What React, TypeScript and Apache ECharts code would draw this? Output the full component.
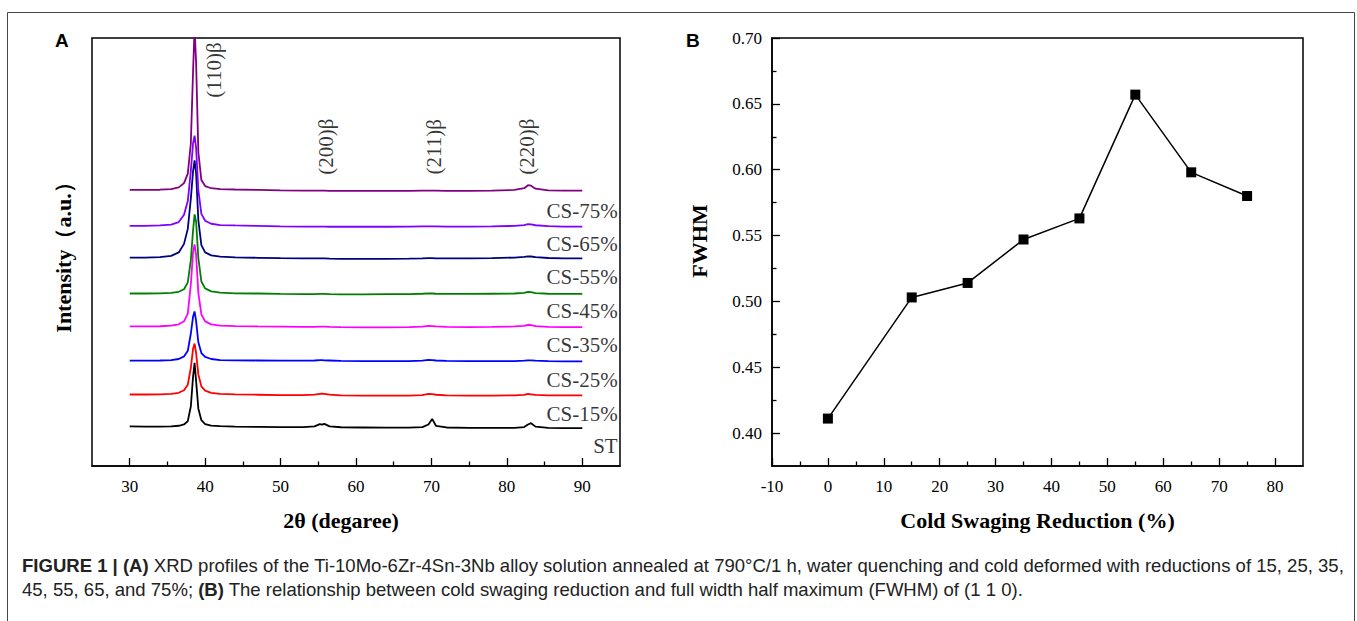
import React, { useEffect, useRef } from "react";
import * as echarts from "echarts";

// ---------- Panel A: XRD profiles ----------
const twoTheta = [30, 32, 34, 35.5, 36.5, 37.2, 37.7, 38.1, 38.4, 38.6, 38.8, 39.1, 39.5, 40, 40.8, 42, 44, 47, 50, 53, 54.5, 55.2, 55.5, 55.8, 56.5, 58, 61, 64, 67, 68.8, 69.6, 70.1, 70.6, 72, 75, 78, 81, 82.3, 82.8, 83.2, 83.8, 85.5, 87.5, 90];

const stTrace = [0.35, 0.3, 0.3, 0.35, 0.5, 0.8, 1.6, 5, 12, 15.2, 11, 4.5, 1.8, 0.9, 0.55, 0.4, 0.3, 0.25, 0.2, 0.2, 0.35, 0.9, 0.75, 0.95, 0.35, 0.15, 0.1, 0.05, 0.05, 0.2, 0.8, 2.1, 0.5, 0.1, 0, 0, 0, 0.2, 0.8, 1.1, 0.3, 0, -0.05, -0.05];
const cs15Trace = [0.3, 0.3, 0.35, 0.45, 0.7, 1.3, 2.6, 6.5, 11, 12.2, 10, 5, 2.2, 1.2, 0.7, 0.45, 0.35, 0.25, 0.15, 0.15, 0.3, 0.45, 0.5, 0.45, 0.3, 0.1, 0.05, 0.05, 0.05, 0.15, 0.45, 0.4, 0.25, 0.1, 0.05, 0.05, 0.1, 0.2, 0.45, 0.35, 0.2, 0.1, 0.1, 0.1];
const cs25Trace = [0.2, 0.2, 0.25, 0.35, 0.6, 1.2, 2.5, 6.5, 10.5, 11.7, 9.5, 4.5, 2, 1.1, 0.6, 0.35, 0.3, 0.25, 0.2, 0.2, 0.25, 0.35, 0.35, 0.3, 0.25, 0.15, 0.1, 0.1, 0.1, 0.2, 0.4, 0.35, 0.25, 0.15, 0.1, 0.1, 0.1, 0.2, 0.3, 0.3, 0.2, 0.1, 0.05, 0.05];
const cs35Trace = [0.2, 0.2, 0.25, 0.4, 0.7, 1.4, 3.2, 10, 17.5, 19.4, 17, 8, 3, 1.4, 0.7, 0.4, 0.3, 0.2, 0.15, 0.1, 0.1, 0.15, 0.15, 0.15, 0.1, 0.05, 0, 0, 0.05, 0.15, 0.35, 0.3, 0.2, 0.1, 0.05, 0.1, 0.2, 0.35, 0.6, 0.5, 0.3, 0.1, 0.05, 0.05];
const cs45Trace = [0.2, 0.2, 0.25, 0.35, 0.6, 1.2, 2.8, 8, 15, 18.7, 17, 8.5, 3, 1.4, 0.7, 0.4, 0.25, 0.2, 0.1, 0.05, 0.05, 0.1, 0.1, 0.1, 0.05, 0, 0, 0.05, 0.05, 0.15, 0.25, 0.2, 0.15, 0.1, 0.1, 0.15, 0.2, 0.35, 0.6, 0.5, 0.3, 0.15, 0.1, 0.1];
const cs55Trace = [0.3, 0.3, 0.4, 0.7, 1.5, 3.5, 7, 14, 20.5, 23, 20, 9, 3.2, 1.5, 0.8, 0.5, 0.35, 0.25, 0.15, 0.1, 0.1, 0.1, 0.1, 0.1, 0.05, 0, 0, 0, 0.05, 0.1, 0.15, 0.15, 0.1, 0.1, 0.1, 0.15, 0.3, 0.45, 0.6, 0.55, 0.4, 0.2, 0.1, 0.1];
const cs65Trace = [0.2, 0.2, 0.3, 0.5, 1.1, 2.8, 6, 13, 19.5, 21.3, 18.5, 8.5, 3, 1.4, 0.7, 0.4, 0.3, 0.2, 0.1, 0.05, 0.05, 0.05, 0.05, 0.05, 0, 0, 0, 0, 0.05, 0.1, 0.1, 0.1, 0.1, 0.05, 0.05, 0.1, 0.2, 0.4, 0.6, 0.55, 0.35, 0.15, 0.05, 0.05];
const cs75Trace = [0.2, 0.2, 0.25, 0.4, 0.8, 1.8, 4, 11, 28, 38, 30, 9, 2.5, 1.1, 0.6, 0.4, 0.3, 0.2, 0.1, 0.05, 0.05, 0.05, 0.05, 0.05, 0, 0, 0, 0, 0, 0.05, 0.05, 0.05, 0.05, 0, 0, 0.05, 0.2, 0.6, 1.3, 1.2, 0.5, 0.1, 0.05, 0.05];

const xrdTraces = [stTrace, cs15Trace, cs25Trace, cs35Trace, cs45Trace, cs55Trace, cs65Trace, cs75Trace];
const sampleNames = ["ST", "CS-15%", "CS-25%", "CS-35%", "CS-45%", "CS-55%", "CS-65%", "CS-75%"];
const sampleColors = ["#000000", "#ff0000", "#0000ff", "#ff00ff", "#008000", "#000080", "#8000ff", "#800080"];
const stackOffsets = [8.9, 16.4, 24.4, 32.4, 40.1, 48.4, 55.9, 64.3];
const labelHeights = [4.7, 12.2, 20.2, 28.2, 36.2, 44.1, 51.9, 59.6];
const labelTheta = 94.7;

const peakNames = ["(110)β", "(200)β", "(211)β", "(220)β"];
const peakLabelTheta = [41.2, 56.0, 70.3, 82.7];
const peakLabelHeights = [92.5, 74.6, 74.6, 74.6];

const xTicksA = [30, 40, 50, 60, 70, 80, 90];
const xMinorA = [35, 45, 55, 65, 75, 85];

// ---------- Panel B: FWHM ----------
const reduction = [0, 15, 25, 35, 45, 55, 65, 75];
const fwhm = [0.411, 0.503, 0.514, 0.547, 0.563, 0.657, 0.598, 0.58];
const xTicksB = [-10, 0, 10, 20, 30, 40, 50, 60, 70, 80];
const xMinorB = [-5, 5, 15, 25, 35, 45, 55, 65, 75];
const yTicksB = [0.4, 0.45, 0.5, 0.55, 0.6, 0.65, 0.7];
const yMinorB = [0.425, 0.475, 0.525, 0.575, 0.625, 0.675];

const SERIF = "'Times New Roman', 'Liberation Serif', serif";
const SANS = "Arial, 'Liberation Sans', sans-serif";

const captionLine1 =
  "{b|FIGURE 1 | (A)} XRD profiles of the Ti-10Mo-6Zr-4Sn-3Nb alloy solution annealed at 790°C/1 h, water quenching and cold deformed with reductions of 15, 25, 35,";
const captionLine2 =
  "45, 55, 65, and 75%; {b|(B)} The relationship between cold swaging reduction and full width half maximum (FWHM) of (1 1 0).";

export default function App() {
  const ref = useRef<HTMLDivElement>(null);

  useEffect(() => {
    document.body.style.margin = "0";
    if (!ref.current) return;
    const chart = echarts.init(ref.current, null, { renderer: "svg" });

    const tickStyle = { color: "#000", width: 1.3 };
    const axisLineStyle = { show: true, onZero: false, lineStyle: { color: "#000", width: 1.5 } };
    const noLine = { show: false, onZero: false };
    const labelStyle = { color: "#000", fontFamily: SERIF, fontSize: 17 };
    const titleStyle = { color: "#000", fontFamily: SERIF, fontSize: 22, fontWeight: "bold" as const };
    const capFont = 18.55;

    const xrdSeries = xrdTraces.map((trace, i) => ({
      type: "line",
      name: sampleNames[i],
      xAxisIndex: 0,
      yAxisIndex: 0,
      data: twoTheta.map((t, k) => [t, stackOffsets[i] + trace[k]]),
      symbol: "none",
      showSymbol: false,
      silent: true,
      lineStyle: { color: sampleColors[i], width: 1.8 },
      z: 2 + i,
    }));

    const option: any = {
      animation: false,
      backgroundColor: "#fff",
      grid: [
        { left: 92, top: 38, width: 528, height: 428, show: true, borderColor: "#000", borderWidth: 1.5, backgroundColor: "transparent" },
        { left: 772, top: 38, width: 531, height: 428, show: true, borderColor: "#000", borderWidth: 1.5, backgroundColor: "transparent" },
      ],
      xAxis: [
        {
          gridIndex: 0, type: "value", min: 25, max: 95, position: "bottom",
          axisLine: axisLineStyle,
          axisTick: { show: true, inside: true, length: 8, lineStyle: tickStyle, customValues: xTicksA },
          axisLabel: { ...labelStyle, margin: 12, customValues: xTicksA },
          splitLine: { show: false },
          name: "2θ (degaree)", nameLocation: "middle", nameGap: 43,
          nameTextStyle: { ...titleStyle, padding: [0, 30, 0, 0] },
        },
        {
          gridIndex: 0, type: "value", min: 25, max: 95, position: "bottom",
          axisLine: noLine,
          axisTick: { show: true, inside: true, length: 4.5, lineStyle: tickStyle, customValues: xMinorA },
          axisLabel: { show: false },
          splitLine: { show: false },
        },
        {
          gridIndex: 1, type: "value", min: -10, max: 85, position: "bottom",
          axisLine: axisLineStyle,
          axisTick: { show: true, inside: true, length: 8, lineStyle: tickStyle, customValues: xTicksB },
          axisLabel: { ...labelStyle, margin: 12, customValues: xTicksB },
          splitLine: { show: false },
          name: "Cold Swaging Reduction (%)", nameLocation: "middle", nameGap: 43,
          nameTextStyle: titleStyle,
        },
        {
          gridIndex: 1, type: "value", min: -10, max: 85, position: "bottom",
          axisLine: noLine,
          axisTick: { show: true, inside: true, length: 4.5, lineStyle: tickStyle, customValues: xMinorB },
          axisLabel: { show: false },
          splitLine: { show: false },
        },
      ],
      yAxis: [
        {
          gridIndex: 0, type: "value", min: 0, max: 100, position: "left",
          axisLine: noLine, axisTick: { show: false }, axisLabel: { show: false },
          splitLine: { show: false },
          name: "Intensity（a.u.）", nameLocation: "middle", nameGap: 18, nameRotate: 90,
          nameTextStyle: titleStyle,
        },
        {
          gridIndex: 1, type: "value", min: 0.375, max: 0.7, position: "left",
          axisLine: axisLineStyle,
          axisTick: { show: true, inside: true, length: 8, lineStyle: tickStyle, customValues: yTicksB },
          axisLabel: { ...labelStyle, margin: 10, customValues: yTicksB, formatter: (v: number) => v.toFixed(2) },
          splitLine: { show: false },
          name: "FWHM", nameLocation: "middle", nameGap: 62, nameRotate: 90,
          nameTextStyle: { ...titleStyle, padding: [0, 0, 0, 22] },
        },
        {
          gridIndex: 1, type: "value", min: 0.375, max: 0.7, position: "left",
          axisLine: noLine,
          axisTick: { show: true, inside: true, length: 4.5, lineStyle: tickStyle, customValues: yMinorB },
          axisLabel: { show: false },
          splitLine: { show: false },
        },
      ],
      series: [
        ...xrdSeries,
        {
          type: "scatter", name: "sampleLabels", xAxisIndex: 0, yAxisIndex: 0,
          symbolSize: 0.1, silent: true, itemStyle: { color: "transparent" },
          data: sampleNames.map((n, i) => ({ name: n, value: [labelTheta, labelHeights[i]] })),
          label: { show: true, position: "left", distance: 0, formatter: "{b}", color: "#000", fontFamily: SERIF, fontSize: 21 },
          z: 20,
        },
        {
          type: "scatter", name: "peakLabels", xAxisIndex: 0, yAxisIndex: 0,
          symbolSize: 0.1, silent: true, itemStyle: { color: "transparent" },
          data: peakNames.map((n, i) => ({ name: n, value: [peakLabelTheta[i], peakLabelHeights[i]] })),
          label: {
            show: true, position: "inside", rotate: 90, align: "center", verticalAlign: "middle",
            formatter: "{b}", color: "#000", fontFamily: SERIF, fontSize: 21,
          },
          z: 20,
        },
        {
          type: "line", name: "FWHM", xAxisIndex: 2, yAxisIndex: 1,
          data: reduction.map((r, i) => [r, fwhm[i]]),
          symbol: "rect", symbolSize: 10, showSymbol: true,
          itemStyle: { color: "#000" },
          lineStyle: { color: "#000", width: 1.5 },
          z: 10,
        },
      ],
      graphic: [
        {
          type: "rect", silent: true, z: -1,
          shape: { x: 7.5, y: 12.5, width: 1347, height: 700 },
          style: { fill: "none", stroke: "#444", lineWidth: 1 },
        },
        {
          type: "text", left: 55, top: 31,
          style: { text: "A", fill: "#000", font: `bold 19px ${SANS}` },
        },
        {
          type: "text", left: 686, top: 31,
          style: { text: "B", fill: "#000", font: `bold 19px ${SANS}` },
        },
        {
          type: "text", left: 22, top: 556,
          style: {
            text: captionLine1, fill: "#222", font: `${capFont}px ${SANS}`,
            rich: { b: { fontWeight: "bold", fontSize: capFont, fontFamily: SANS, fill: "#222" } },
          },
        },
        {
          type: "text", left: 22, top: 580,
          style: {
            text: captionLine2, fill: "#222", font: `${capFont}px ${SANS}`,
            rich: { b: { fontWeight: "bold", fontSize: capFont, fontFamily: SANS, fill: "#222" } },
          },
        },
      ],
    };

    chart.setOption(option);
    return () => chart.dispose();
  }, []);

  return <div ref={ref} style={{ width: 1357, height: 621 }} />;
}
